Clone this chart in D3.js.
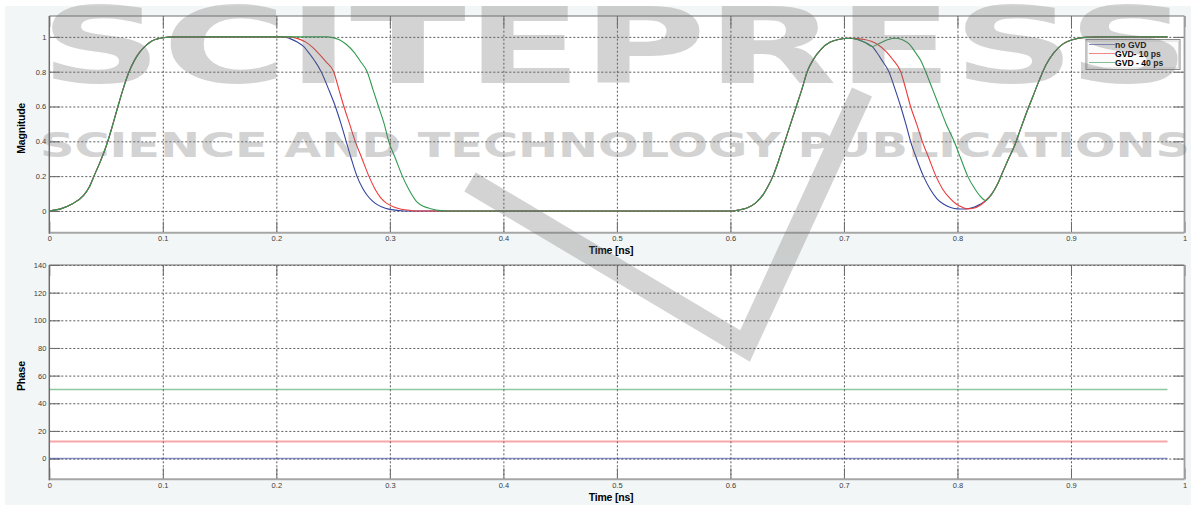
<!DOCTYPE html>
<html>
<head>
<meta charset="utf-8">
<script src="https://cdn.jsdelivr.net/npm/d3@7"></script>
<style>
  html, body { margin: 0; padding: 0; background: #ffffff; }
  svg { display: block; }
  .ticklabel text { font-family: "Liberation Sans", Arial, sans-serif; font-size: 7.5px; fill: #3c3c3c; }
  .title { font-family: "Liberation Sans", Arial, sans-serif; font-weight: bold; font-size: 10.5px; fill: #000; letter-spacing: -0.2px; }
  .legend text { font-family: "Liberation Sans", Arial, sans-serif; font-weight: bold; font-size: 8.6px; fill: #000; }
</style>
</head>
<body>
<svg id="fig" width="1193" height="513"></svg>
<script>
// ---------- axis ticks ----------
const timeTicks = [0, 0.1, 0.2, 0.3, 0.4, 0.5, 0.6, 0.7, 0.8, 0.9, 1];
const timeTickLabels = ["0", "0.1", "0.2", "0.3", "0.4", "0.5", "0.6", "0.7", "0.8", "0.9", "1"];
const magnitudeTicks = [0, 0.2, 0.4, 0.6, 0.8, 1];
const magnitudeTickLabels = ["0", "0.2", "0.4", "0.6", "0.8", "1"];
const phaseTicks = [0, 20, 40, 60, 80, 100, 120, 140];
const phaseTickLabels = ["0", "20", "40", "60", "80", "100", "120", "140"];

// ---------- series ----------
const seriesNames = ["no GVD", "GVD- 10 ps", "GVD - 40 ps"];
const seriesColors = ["#34449e", "#ec3b3b", "#2f9a4f"];

// magnitude samples [time ns, magnitude], pieces shared by all three signals
const firstRise = [[0,0],[0.01,0.012],[0.02,0.04],[0.03,0.088],[0.035,0.135],[0.04,0.21],[0.045,0.285],
  [0.05,0.37],[0.055,0.475],[0.06,0.59],[0.065,0.7],[0.07,0.795],[0.075,0.865],[0.08,0.915],[0.085,0.95],
  [0.09,0.975],[0.1,0.995],[0.11,1]];
const secondRise = [[0.6,0],[0.605,0.003],[0.615,0.018],[0.622,0.045],[0.629,0.095],[0.633,0.14],[0.6375,0.2],
  [0.643,0.3],[0.648,0.4],[0.653,0.5],[0.658,0.6],[0.663,0.7],[0.6676,0.8],[0.673,0.87],[0.68,0.93],
  [0.688,0.97],[0.695,0.985],[0.705,0.992]];
const lastRise = [[0.83,0.095],[0.835,0.15],[0.84,0.225],[0.845,0.3],[0.85,0.37],[0.855,0.46],[0.86,0.55],
  [0.866,0.65],[0.872,0.75],[0.878,0.84],[0.885,0.91],[0.893,0.96],[0.902,0.985],[0.912,0.997],[0.925,1],[0.985,1]];

// no GVD
const noGvdFirstFall = [[0.206,1],[0.212,0.99],[0.218,0.972],[0.224,0.945],[0.229,0.905],[0.234,0.86],
  [0.2395,0.8],[0.246,0.7],[0.252,0.6],[0.257,0.5],[0.2615,0.4],[0.266,0.3],[0.271,0.2],[0.276,0.13],
  [0.28,0.09],[0.285,0.055],[0.29,0.032],[0.296,0.016],[0.303,0.006],[0.31,0.001],[0.315,0]];
const noGvdSecondFall = [[0.71,0.988],[0.716,0.975],[0.721,0.96],[0.725,0.944],[0.729,0.91],[0.7335,0.865],
  [0.7396,0.8],[0.745,0.7],[0.75,0.6],[0.7545,0.5],[0.7587,0.4],[0.764,0.3],[0.77,0.2],[0.776,0.125],
  [0.782,0.07],[0.788,0.038],[0.794,0.02],[0.8,0.012],[0.805,0.011],[0.81,0.014],[0.815,0.022],
  [0.82,0.038],[0.825,0.06]];

// GVD 10 ps
const gvd10FirstFall = [[0.212,1],[0.219,0.99],[0.226,0.97],[0.232,0.94],[0.238,0.9],[0.244,0.855],
  [0.2505,0.8],[0.255,0.7],[0.2595,0.6],[0.2645,0.5],[0.2695,0.4],[0.2755,0.3],[0.2815,0.2],[0.287,0.125],
  [0.292,0.075],[0.297,0.045],[0.303,0.024],[0.31,0.01],[0.318,0.003],[0.325,0]];
const gvd10SecondFall = [[0.712,0.99],[0.718,0.985],[0.724,0.975],[0.73,0.955],[0.737,0.917],[0.743,0.87],
  [0.75,0.8],[0.7545,0.7],[0.7587,0.6],[0.764,0.5],[0.769,0.4],[0.775,0.3],[0.781,0.2],[0.787,0.125],
  [0.793,0.075],[0.799,0.04],[0.804,0.022],[0.809,0.012],[0.814,0.015],[0.82,0.033],[0.825,0.06]];

// GVD 40 ps
const gvd40FirstFall = [[0.245,1],[0.255,0.985],[0.262,0.955],[0.268,0.915],[0.274,0.86],[0.28,0.8],
  [0.285,0.7],[0.29,0.6],[0.295,0.5],[0.299,0.4],[0.305,0.3],[0.311,0.2],[0.317,0.12],[0.324,0.05],
  [0.33,0.025],[0.336,0.013],[0.345,0.002],[0.35,0]];
const gvd40SecondFall = [[0.712,0.985],[0.718,0.97],[0.725,0.945],[0.732,0.965],[0.739,0.985],[0.746,0.992],
  [0.752,0.982],[0.758,0.955],[0.763,0.91],[0.768,0.86],[0.772,0.8],[0.778,0.7],[0.784,0.6],[0.79,0.5],
  [0.797,0.4],[0.803,0.3],[0.809,0.2],[0.815,0.13],[0.82,0.085],[0.825,0.06]];

// phase (constant per signal) over the simulated window
const phaseTimeSpan = [0, 0.985];
const phaseLevels = [0, 12.3, 50];

const magnitudeSeries = [
  [...firstRise, ...noGvdFirstFall, ...secondRise, ...noGvdSecondFall, ...lastRise],
  [...firstRise, ...gvd10FirstFall, ...secondRise, ...gvd10SecondFall, ...lastRise],
  [...firstRise, ...gvd40FirstFall, ...secondRise, ...gvd40SecondFall, ...lastRise]
];

// ---------- layout ----------
const svg = d3.select("#fig");
const W = 1193, H = 513;
const left = 49.3, right = 1184.5;
const magPanel = { top: 16, bottom: 232.7 };
const phPanel = { top: 265, bottom: 479.3 };
const tickLen = 11;

svg.append("rect").attr("x", 0).attr("y", 0).attr("width", W).attr("height", H).attr("fill", "#ffffff");
svg.append("rect").attr("x", 5).attr("y", 6).attr("width", 1186).attr("height", 499).attr("fill", "#f3f6f7");

const x = d3.scaleLinear().domain([0, 1]).range([left, right]);
const yMag = d3.scaleLinear().domain([-0.125, 1.12]).range([magPanel.bottom, magPanel.top]);
const yPh = d3.scaleLinear().domain([-15, 140]).range([phPanel.bottom, phPanel.top]);

function drawPanel(panel, y, yTicks, yLabels, yTitle, id) {
  const g = svg.append("g");
  const h = panel.bottom - panel.top;
  g.append("rect").attr("x", left).attr("y", panel.top).attr("width", right - left).attr("height", h).attr("fill", "#ffffff");

  // dotted grid
  const gx = g.append("g").attr("transform", `translate(0,${panel.bottom})`)
    .call(d3.axisBottom(x).tickValues(timeTicks.slice(1, -1)).tickSize(-h).tickFormat(""));
  const gy = g.append("g").attr("transform", `translate(${left},0)`)
    .call(d3.axisLeft(y).tickValues(yTicks).tickSize(-(right - left)).tickFormat(""));
  [gx, gy].forEach(a => {
    a.select(".domain").remove();
    a.selectAll("line").attr("stroke", "#5a5a5a").attr("stroke-dasharray", "2,2").attr("stroke-width", 1);
  });

  // inward tick marks on all four sides
  const tickStyle = a => { a.select(".domain").remove(); a.selectAll("line").attr("stroke", "#6a6a6a").attr("stroke-width", 1); };
  g.append("g").attr("transform", `translate(0,${panel.bottom})`)
    .call(d3.axisBottom(x).tickValues(timeTicks).tickSize(-tickLen).tickFormat("")).call(tickStyle);
  g.append("g").attr("transform", `translate(0,${panel.top})`)
    .call(d3.axisTop(x).tickValues(timeTicks).tickSize(-tickLen).tickFormat("")).call(tickStyle);
  g.append("g").attr("transform", `translate(${left},0)`)
    .call(d3.axisLeft(y).tickValues(yTicks).tickSize(-tickLen).tickFormat("")).call(tickStyle);
  g.append("g").attr("transform", `translate(${right},0)`)
    .call(d3.axisRight(y).tickValues(yTicks).tickSize(-tickLen).tickFormat("")).call(tickStyle);

  // tick labels
  const xl = g.append("g").attr("class", "ticklabel").attr("transform", `translate(0,${panel.bottom})`)
    .call(d3.axisBottom(x).tickValues(timeTicks).tickSize(0).tickPadding(3)
      .tickFormat((d, i) => timeTickLabels[i]));
  xl.select(".domain").remove();
  const yl = g.append("g").attr("class", "ticklabel").attr("transform", `translate(${left},0)`)
    .call(d3.axisLeft(y).tickValues(yTicks).tickSize(0).tickPadding(3)
      .tickFormat((d, i) => yLabels[i]));
  yl.select(".domain").remove();
  g.selectAll(".ticklabel text").attr("font-family", null).attr("font-size", null);

  // axis titles
  g.append("text").attr("class", "title")
    .attr("transform", `translate(25,${(panel.top + panel.bottom) / 2 + 4}) rotate(-90)`)
    .attr("text-anchor", "middle").text(yTitle);
  g.append("text").attr("class", "title")
    .attr("x", 611).attr("y", panel.bottom + 21.5).attr("text-anchor", "middle").text("Time [ns]");

  g.append("clipPath").attr("id", id).append("rect")
    .attr("x", left).attr("y", panel.top).attr("width", right - left).attr("height", h);
  return g;
}

const gMag = drawPanel(magPanel, yMag, magnitudeTicks, magnitudeTickLabels, "Magnitude", "clipMag");
const gPh = drawPanel(phPanel, yPh, phaseTicks, phaseTickLabels, "Phase", "clipPh");

// magnitude traces
const magLine = d3.line().x(d => x(d[0])).y(d => yMag(d[1])).curve(d3.curveMonotoneX);
gMag.append("g").attr("clip-path", "url(#clipMag)")
  .selectAll("path").data(magnitudeSeries).join("path")
  .attr("d", magLine).attr("fill", "none")
  .attr("stroke", (d, i) => seriesColors[i]).attr("stroke-width", 1.1);

// phase traces
const phLine = d3.line().x(d => x(d[0])).y(d => yPh(d[1]));
gPh.append("g").attr("clip-path", "url(#clipPh)")
  .selectAll("path").data(phaseLevels).join("path")
  .attr("d", v => phLine(phaseTimeSpan.map(t => [t, v])))
  .attr("fill", "none")
  .attr("stroke", (d, i) => seriesColors[i])
  .attr("stroke-opacity", (d, i) => i === 1 ? 0.45 : 0.55)
  .attr("stroke-width", (d, i) => i === 1 ? 2 : 1.4);

// panel frames
function frame(panel) {
  const f = svg.append("g");
  f.append("line").attr("x1", left).attr("x2", right).attr("y1", panel.top).attr("y2", panel.top)
    .attr("stroke", "#707070").attr("stroke-width", 1.2);
  f.append("line").attr("x1", right).attr("x2", right).attr("y1", panel.top).attr("y2", panel.bottom)
    .attr("stroke", "#9c9c9c").attr("stroke-width", 1.8);
  f.append("line").attr("x1", left).attr("x2", right).attr("y1", panel.bottom).attr("y2", panel.bottom)
    .attr("stroke", "#a6a6a6").attr("stroke-width", 2);
  f.append("line").attr("x1", left).attr("x2", left).attr("y1", panel.top).attr("y2", panel.bottom + 1)
    .attr("stroke", "#6e6e6e").attr("stroke-width", 1.5);
}
frame(magPanel);
frame(phPanel);

// legend
const lg = svg.append("g").attr("class", "legend").attr("transform", "translate(1086,39.5)");
lg.append("rect").attr("width", 94).attr("height", 30).attr("fill", "#fbfbfb")
  .attr("stroke", "#8a8a8a").attr("stroke-width", 1);
lg.append("rect").attr("x", 1.5).attr("y", 1.5).attr("width", 91).attr("height", 27).attr("fill", "none")
  .attr("stroke", "#cfcfcf").attr("stroke-width", 0.8);
seriesNames.forEach((name, i) => {
  const yy = 5 + i * 9;
  lg.append("line").attr("x1", 3).attr("x2", 29).attr("y1", yy).attr("y2", yy)
    .attr("stroke", seriesColors[i]).attr("stroke-opacity", 0.6).attr("stroke-width", 1);
  lg.append("text").attr("x", 29).attr("y", yy + 3).text(name);
});

// publisher watermark overlay
const wm = svg.append("g").attr("pointer-events", "none").attr("opacity", 0.3);
wm.append("text").attr("x", 40).attr("y", 83)
  .attr("textLength", 1150).attr("lengthAdjust", "spacingAndGlyphs")
  .attr("font-family", "DejaVu Sans, sans-serif").attr("font-weight", "bold").attr("font-size", 106)
  .attr("fill", "#707070").text("SCITEPRESS");
wm.append("text").attr("x", 40).attr("y", 157)
  .attr("textLength", 1150).attr("lengthAdjust", "spacingAndGlyphs")
  .attr("font-family", "DejaVu Sans, sans-serif").attr("font-weight", "bold").attr("font-size", 33)
  .attr("fill", "#707070").text("SCIENCE AND TECHNOLOGY PUBLICATIONS");
wm.append("path").attr("d", "M470,182 L745,346 L862,92")
  .attr("fill", "none").attr("stroke", "#707070").attr("stroke-width", 22).attr("stroke-linejoin", "miter");
wm.append("path").attr("d", "M604,73 L622,56")
  .attr("fill", "none").attr("stroke", "#707070").attr("stroke-width", 6).attr("stroke-linecap", "round");
</script>
</body>
</html>
